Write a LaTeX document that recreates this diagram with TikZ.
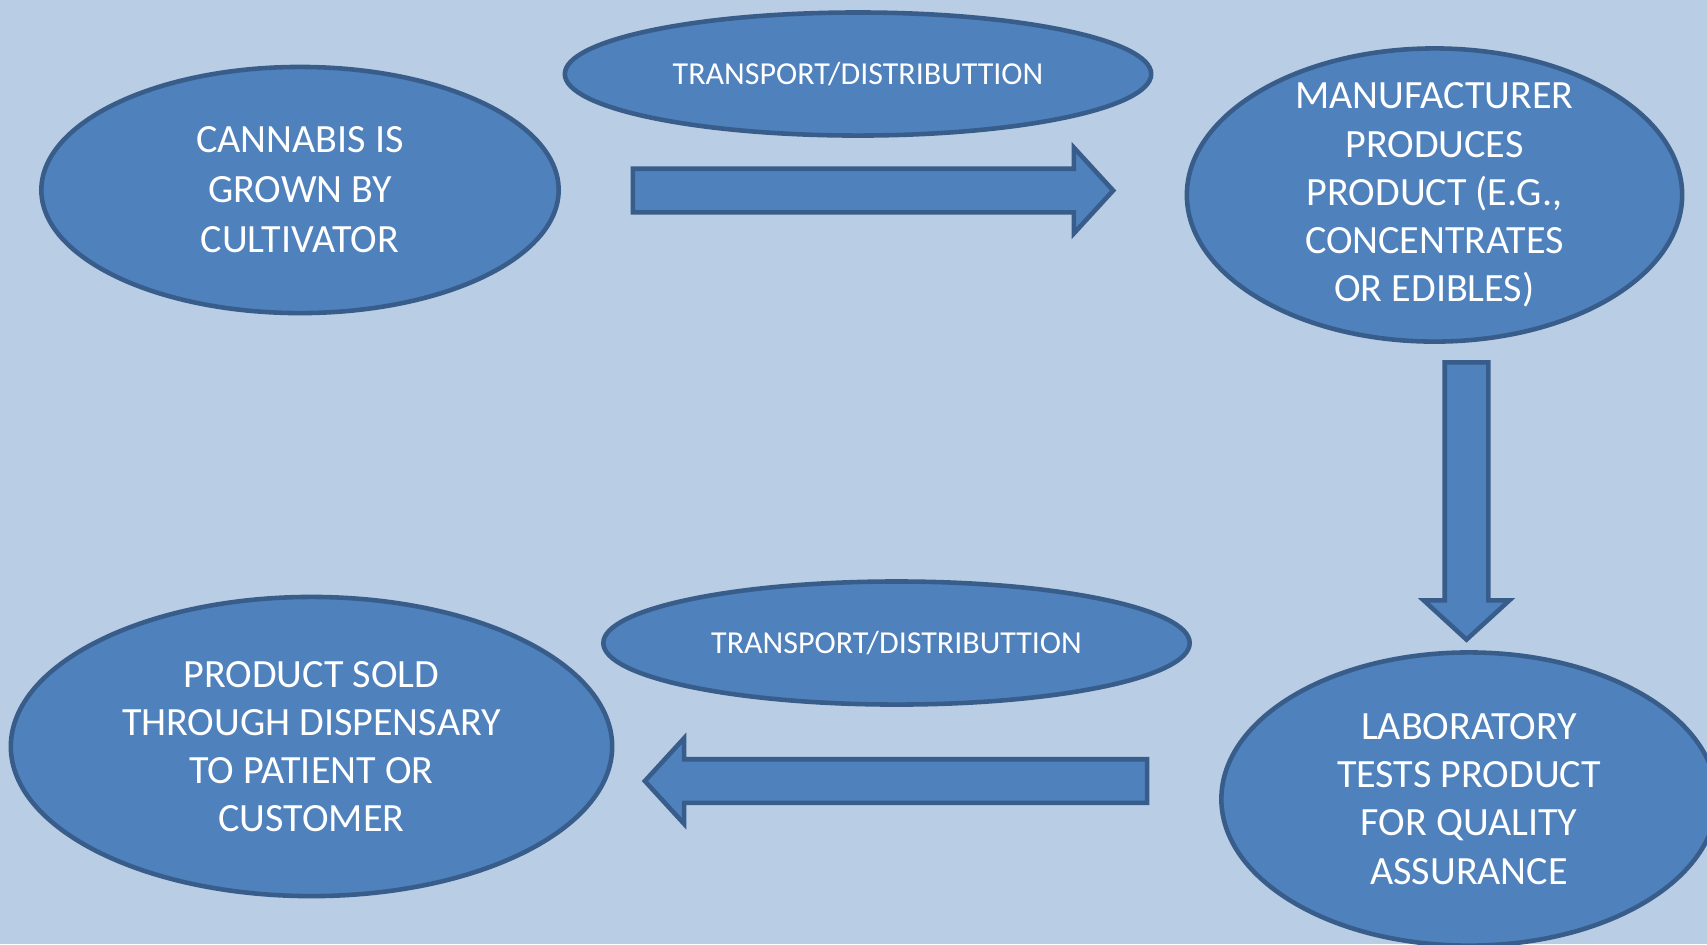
\documentclass[tikz,border=0pt]{standalone}
\usepackage{fontspec}
\setmainfont{Carlito}
\usetikzlibrary{shapes.geometric, shapes.arrows}

\definecolor{paleblue}{HTML}{B9CDE5}
\definecolor{fillblue}{HTML}{4F81BD}
\definecolor{edgeblue}{HTML}{385D8A}

\tikzstyle{stage} = [ellipse, 
inner sep=0pt,
align=center,
draw=edgeblue, 
line width=1.3pt,
fill=fillblue,
text=white,
font=\fontsize{11.4}{13.7}\selectfont]
\tikzstyle{transport} = [ellipse, 
minimum width=5.86cm, 
minimum height=1.23cm,
inner sep=0pt,
draw=edgeblue, 
line width=1.3pt,
fill=fillblue,
text=white,
font=\fontsize{9.1}{10.5}\selectfont]
\tikzstyle{fatarrow} = [single arrow,
inner xsep=0pt,
inner ysep=0.195cm,
text height=0pt,
text depth=0pt,
single arrow head extend=0.21cm,
single arrow tip angle=95,
draw=edgeblue, 
line width=1.3pt,
fill=fillblue]

\begin{document}
\begin{tikzpicture}[x=0.01cm, y=-0.01cm]
\useasboundingbox (0,0) rectangle (1707,944);
\fill [paleblue] (0,0) rectangle (1707,944);
\clip (0,0) rectangle (1707,944);

\node (grow) [stage, minimum width=5.17cm, minimum height=2.46cm, font=\fontsize{11.4}{14.2}\selectfont] at (300,190) {CANNABIS IS\\GROWN BY\\CULTIVATOR};
\node (trans1) [transport] at (858,74) {TRANSPORT/DISTRIBUTTION};
\node (manuf) [stage, minimum width=4.95cm, minimum height=2.93cm, inner ysep=-8pt] at (1434.5,195) {MANUFACTURER\\PRODUCES\\PRODUCT (E.G.,\\CONCENTRATES\\OR EDIBLES)};
\node (lab) [stage, minimum width=4.95cm, minimum height=2.93cm] at (1469,799) {LABORATORY\\TESTS PRODUCT\\FOR QUALITY\\ASSURANCE};
\node (trans2) [transport] at (896.5,643) {TRANSPORT/DISTRIBUTTION};
\node (sold) [stage, minimum width=6.01cm, minimum height=2.99cm] at (311.5,746.5) {PRODUCT SOLD\\THROUGH DISPENSARY\\TO PATIENT OR\\CUSTOMER};

% block arrows between the stages
\node (toManuf) [fatarrow, minimum height=4.8cm] at (863,190.5) {};
\node (toLab) [fatarrow, rotate=-90, minimum height=2.77cm] at (1466.5,491) {};
\node (toSold) [fatarrow, rotate=180, minimum height=5.02cm] at (906,781) {};
\end{tikzpicture}
\end{document}
